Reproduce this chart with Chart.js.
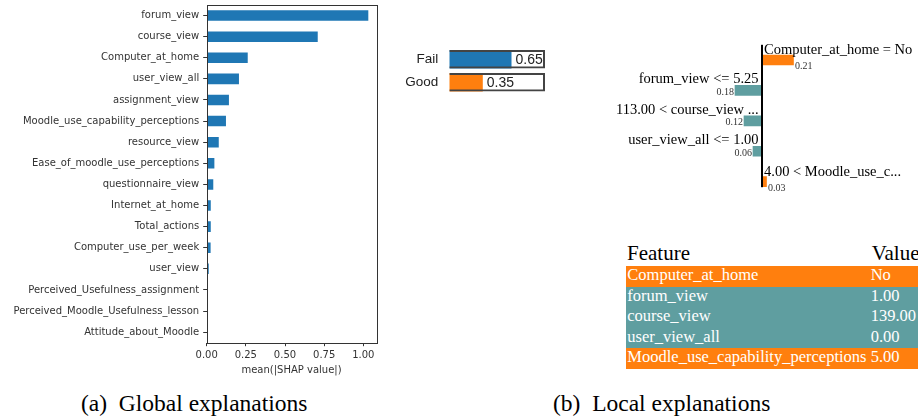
<!DOCTYPE html>
<html>
<head>
<meta charset="utf-8">
<script src="https://cdn.jsdelivr.net/npm/chart.js@4.4.1/dist/chart.umd.min.js"></script>
<style>
body { margin:0; width:918px; height:419px; overflow:hidden; background:#fff; position:relative; }
canvas { position:absolute; }
.cap { position:absolute; font-family:"Liberation Serif","Times New Roman",serif; font-size:23.5px; line-height:23.5px; color:#000; white-space:nowrap; }
.head { position:absolute; font-family:"Liberation Serif",serif; font-size:21px; line-height:21px; color:#000; white-space:nowrap; }
.row { position:absolute; left:626px; width:292px; height:20.6px; font-family:"Liberation Serif",serif; font-size:16.5px; line-height:20.6px; color:#fff; white-space:nowrap; }
.row span { position:absolute; top:-1px; }
</style>
</head>
<body>
<canvas id="shap" width="390" height="380" style="left:0;top:0"></canvas>
<canvas id="proba" width="170" height="60" style="left:390px;top:40px"></canvas>
<canvas id="lime" width="318" height="160" style="left:600px;top:40px"></canvas>
<div id="table"></div>
<div class="cap" style="left:81px;top:392px">(a)&ensp;Global explanations</div>
<div class="cap" style="left:553px;top:392px">(b)&ensp;Local explanations</div>
<script>
// global explanation: mean |SHAP| per feature
var shapFeatures = ['forum_view', 'course_view', 'Computer_at_home', 'user_view_all', 'assignment_view',
    'Moodle_use_capability_perceptions', 'resource_view', 'Ease_of_moodle_use_perceptions',
    'questionnaire_view', 'Internet_at_home', 'Total_actions', 'Computer_use_per_week', 'user_view',
    'Perceived_Usefulness_assignment', 'Perceived_Moodle_Usefulness_lesson', 'Attitude_about_Moodle'];
var shapValues = [1.032, 0.709, 0.262, 0.206, 0.142, 0.123, 0.077, 0.049, 0.042, 0.026, 0.026, 0.025, 0.013, 0, 0, 0];
var xTicks = [0, 0.25, 0.5, 0.75, 1.0];

// prediction probabilities
var classNames = ['Fail', 'Good'];
var classProba = [0.65, 0.35];

// local explanation (LIME weights)
var limeLabels = ['Computer_at_home = No', 'forum_view <= 5.25', '113.00 < course_view ...',
    'user_view_all <= 1.00', '4.00 < Moodle_use_c...'];
var limeWeights = [0.21, -0.18, -0.12, -0.06, 0.03];

// feature values table
var tableFeatures = ['Computer_at_home', 'forum_view', 'course_view', 'user_view_all', 'Moodle_use_capability_perceptions'];
var tableValues = ['No', '1.00', '139.00', '0.00', '5.00'];

var ORANGE = '#ff7f0e';
var TEAL = '#5f9ea0';

// box around plot area (matplotlib spines)
var boxPlugin = {
    id: 'box',
    afterDraw: function (chart) {
        var a = chart.chartArea, ctx = chart.ctx;
        ctx.save();
        ctx.strokeStyle = '#333';
        ctx.lineWidth = 1;
        ctx.strokeRect(Math.round(a.left) + 0.5, Math.round(a.top) + 0.5,
            Math.round(a.right - a.left), Math.round(a.bottom - a.top));
        ctx.restore();
    }
};

// keep the chart area where I put it, labels may hang over
function noPad(s) {
    s.paddingTop = 0;
    s.paddingBottom = 0;
    s.paddingLeft = 0;
    s.paddingRight = 0;
}

var mplFont = {family: 'DejaVu Sans', size: 10};

new Chart(document.getElementById('shap'), {
    type: 'bar',
    data: {
        labels: shapFeatures,
        datasets: [{data: shapValues, backgroundColor: '#1f77b4', barPercentage: 0.5, categoryPercentage: 1}]
    },
    options: {
        indexAxis: 'y', responsive: false, animation: false, devicePixelRatio: 1,
        layout: {padding: {top: 5, right: 13.7, left: 0, bottom: 0}},
        plugins: {legend: {display: false}, tooltip: {enabled: false}},
        scales: {
            x: {
                min: 0, max: 1.083,
                afterBuildTicks: function (s) { s.ticks = xTicks.map(function (v) { return {value: v}; }); },
                afterFit: function (s) { s.height = 37.3; noPad(s); },
                grid: {display: true, drawOnChartArea: false, tickLength: 3.5, color: '#333'},
                border: {display: false},
                ticks: {font: mplFont, color: '#333', padding: 3, maxRotation: 0, autoSkip: false,
                    callback: function (v) { return v.toFixed(2); }},
                title: {display: true, text: 'mean(|SHAP value|)', font: mplFont, color: '#333', padding: {top: 0, bottom: 4}}
            },
            y: {
                afterFit: function (s) { s.width = 206.7; noPad(s); },
                grid: {display: true, drawOnChartArea: false, offset: false, tickLength: 3.5, color: '#333'},
                border: {display: false},
                ticks: {font: mplFont, color: '#333', padding: 4, autoSkip: false}
            }
        }
    },
    plugins: [boxPlugin]
});

// probability numbers next to the fill
var probaText = {
    id: 'probaText',
    afterDatasetsDraw: function (chart) {
        var ctx = chart.ctx;
        var meta = chart.getDatasetMeta(0);
        ctx.save();
        ctx.font = '14px "Liberation Sans"';
        ctx.fillStyle = '#222';
        ctx.textBaseline = 'middle';
        ctx.textAlign = 'left';
        meta.data.forEach(function (bar, i) {
            ctx.fillText(classProba[i].toFixed(2), bar.x + 4, bar.y + 1);
        });
        ctx.restore();
    }
};

new Chart(document.getElementById('proba'), {
    type: 'bar',
    data: {
        labels: classNames,
        datasets: [
            {data: classProba, backgroundColor: ['#1f77b4', ORANGE], grouped: false, order: 1,
                barPercentage: 0.8, categoryPercentage: 1},
            {data: classNames.map(function () { return 1; }), backgroundColor: 'rgba(0,0,0,0)',
                borderColor: '#444', borderWidth: 2, grouped: false, order: 0,
                barPercentage: 0.8, categoryPercentage: 1}
        ]
    },
    options: {
        indexAxis: 'y', responsive: false, animation: false, devicePixelRatio: 1,
        layout: {padding: {top: 7.7, right: 15, bottom: 6.3, left: 0}},
        plugins: {legend: {display: false}, tooltip: {enabled: false}},
        scales: {
            x: {display: false, min: 0, max: 1},
            y: {
                afterFit: function (s) { s.width = 59.3; noPad(s); },
                grid: {display: false}, border: {display: false},
                ticks: {font: {family: 'Liberation Sans', size: 13.5}, color: '#222', padding: 3}
            }
        }
    },
    plugins: [probaText]
});

// LIME: centre line, feature labels and weights
var limePlugin = {
    id: 'limeText',
    afterDatasetsDraw: function (chart) {
        var ctx = chart.ctx;
        var meta = chart.getDatasetMeta(0);
        var x0 = chart.scales.x.getPixelForValue(0);
        var last = meta.data[meta.data.length - 1];
        ctx.save();
        ctx.fillStyle = '#000';
        ctx.fillRect(x0 - 1, chart.chartArea.top, 2, last.y + 5.5 - chart.chartArea.top);
        meta.data.forEach(function (bar, i) {
            var w = limeWeights[i];
            var top = bar.y - 5;
            ctx.fillStyle = '#000';
            ctx.textBaseline = 'alphabetic';
            ctx.font = '14.5px "Liberation Serif"';
            if (w > 0) {
                ctx.textAlign = 'left';
                ctx.fillText(limeLabels[i], x0 + 2, top - 1);
            } else {
                ctx.textAlign = 'right';
                ctx.fillText(limeLabels[i], x0 - 3.5, top - 2);
            }
            ctx.font = '10px "Liberation Serif"';
            ctx.fillStyle = '#333';
            if (w > 0) {
                ctx.textAlign = 'left';
                ctx.fillText(Math.abs(w).toFixed(2), bar.x + 1.5, bar.y + 9);
            } else {
                ctx.textAlign = 'right';
                ctx.fillText(Math.abs(w).toFixed(2), bar.x - 1, bar.y + 4.5);
            }
        });
        ctx.restore();
    }
};

new Chart(document.getElementById('lime'), {
    type: 'bar',
    data: {
        labels: limeLabels,
        datasets: [{
            data: limeWeights,
            backgroundColor: limeWeights.map(function (w) { return w > 0 ? ORANGE : TEAL; }),
            barThickness: 10
        }]
    },
    options: {
        indexAxis: 'y', responsive: false, animation: false, devicePixelRatio: 1,
        layout: {padding: {top: 4.8, bottom: 3.1, left: 0, right: 0}},
        plugins: {legend: {display: false}, tooltip: {enabled: false}},
        scales: {
            x: {display: false, min: -1.08, max: 1.04},
            y: {display: false}
        }
    },
    plugins: [limePlugin]
});

// feature / value table
var tbl = document.getElementById('table');
tbl.innerHTML = '<div class="head" style="left:627px;top:243.4px">Feature</div>' +
    '<div class="head" style="left:871.7px;top:243.4px">Value</div>';
tableFeatures.forEach(function (f, i) {
    var row = document.createElement('div');
    row.className = 'row';
    row.style.top = (266 + i * 20.6) + 'px';
    row.style.background = limeWeights[i] > 0 ? ORANGE : TEAL;
    row.innerHTML = '<span style="left:1.3px">' + f + '</span><span style="left:244.7px">' + tableValues[i] + '</span>';
    tbl.appendChild(row);
});
</script>
</body>
</html>
